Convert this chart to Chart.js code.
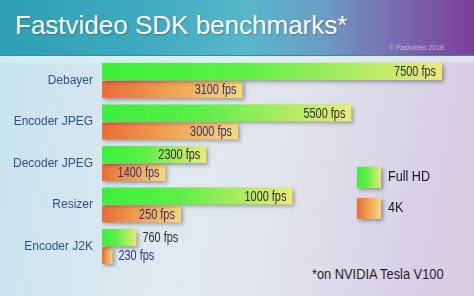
<!DOCTYPE html>
<html>
<head>
<meta charset="utf-8">
<script src="https://cdn.jsdelivr.net/npm/chart.js@4.4.0/dist/chart.umd.min.js"></script>
<style>
html, body { margin: 0; padding: 0; }
body {
    width: 474px; height: 296px; overflow: hidden; position: relative;
    font-family: "Liberation Sans", Arial, sans-serif;
    background: linear-gradient(100deg, #c6e3ee 0%, #e0e9ef 40%, #e1e4ec 60%, #d9d2e6 85%, #dacae0 100%);
}
#header {
    position: absolute; left: 0; top: 0; width: 474px; height: 55px;
    background: linear-gradient(90deg, #2e9fb4 0%, #3faabf 30%, #58b7cb 52%, #6b9cc4 68%, #7a6aae 84%, #7c3e98 100%);
    border-bottom: 1px solid #2f8ea3;
}
#band {
    position: absolute; left: 0; top: 56px; width: 474px; height: 7px;
    background: linear-gradient(90deg, #cfeef3 0%, #dff0f4 50%, #e2e0ee 100%);
}
#title {
    position: absolute; left: 15px; top: 12px;
    font-size: 26px; line-height: 26px; color: #fff; white-space: nowrap;
    text-shadow: 1px 1px 2px rgba(0, 0, 0, 0.25);
}
#copy {
    position: absolute; left: 389px; top: 44px;
    font-size: 7px; line-height: 7px; color: rgba(255, 255, 255, 0.55); white-space: nowrap;
}
#note {
    position: absolute; left: 312px; top: 267px;
    font-size: 14px; line-height: 14px; color: #1e1e28; white-space: nowrap;
    transform: scaleX(0.915); transform-origin: 0 0;
}
#wrap { position: absolute; left: 0; top: 0; width: 474px; height: 296px; }
</style>
</head>
<body>
<div id="header">
    <div id="title">Fastvideo SDK benchmarks*</div>
    <div id="copy">© Fastvideo 2018</div>
</div>
<div id="band"></div>
<div id="note">*on NVIDIA Tesla V100</div>
<div id="wrap"><canvas id="benchChart"></canvas></div>

<script>
// data
const categories = ['Debayer', 'Encoder JPEG', 'Decoder JPEG', 'Resizer', 'Encoder J2K'];
const seriesNames = ['Full HD', '4K'];

// fps figures printed on the bars
const fullHdFps = [7500, 5500, 2300, 1000, 760];
const fourKFps = [3100, 3000, 1400, 250, 230];

// bar lengths as drawn (fps units) - the Resizer bars are drawn longer than their figures
const fullHdLength = [7500, 5500, 2300, 4200, 760];
const fourKLength = [3100, 3000, 1400, 1740, 230];

Chart.defaults.font.family = '"Liberation Sans", Arial, sans-serif';

// gradient running along each bar, from its base to its end
function barGradient(stops) {
    return (context) => {
        const chart = context.chart;
        if (!chart.chartArea || context.type !== 'data') return stops[0][1];
        const x = chart.scales.x;
        const x0 = x.getPixelForValue(0);
        const x1 = x.getPixelForValue(context.raw);
        const g = chart.ctx.createLinearGradient(x0, 0, Math.max(x1, x0 + 1), 0);
        stops.forEach(s => g.addColorStop(s[0], s[1]));
        return g;
    };
}

const greenStops = [[0, '#3cf03c'], [0.4, '#5cef45'], [1, '#ebea78']];
const orangeStops = [[0, '#e96c35'], [0.5, '#f0a356'], [1, '#f5d97c']];

// narrow text: the original uses a condensed face
function narrowText(c, text, x, y, align, squeeze) {
    const w = c.measureText(text).width * squeeze;
    const left = align === 'right' ? x - w : x;
    c.save();
    c.translate(left, y);
    c.scale(squeeze, 1);
    c.textAlign = 'left';
    c.fillText(text, 0, 0);
    c.restore();
}

// soft drop shadow under the bars
const barShadow = {
    id: 'barShadow',
    beforeDatasetsDraw(chart) {
        const c = chart.ctx;
        c.save();
        c.shadowColor = 'rgba(0, 0, 0, 0.35)';
        c.shadowBlur = 4;
        c.shadowOffsetX = 2;
        c.shadowOffsetY = 2;
    },
    afterDatasetsDraw(chart) {
        chart.ctx.restore();
    }
};

// "xxxx fps" text at the end of each bar
const fpsLabels = {
    id: 'fpsLabels',
    afterDatasetsDraw(chart) {
        const c = chart.ctx;
        const squeeze = 0.78;
        c.save();
        c.font = '14px "Liberation Sans", Arial, sans-serif';
        c.textBaseline = 'middle';
        chart.data.datasets.forEach((ds, i) => {
            chart.getDatasetMeta(i).data.forEach((bar, j) => {
                const text = ds.fps[j] + ' fps';
                const w = c.measureText(text).width * squeeze;
                c.fillStyle = ds.labelColor;
                if (bar.x - bar.base > w + 12) {
                    narrowText(c, text, bar.x - 6, bar.y + 1, 'right', squeeze);
                } else {
                    narrowText(c, text, bar.x + 6, bar.y + 1, 'left', squeeze);
                }
            });
        });
        c.restore();
    }
};

// legend boxes on the right
const boxLegend = {
    id: 'boxLegend',
    afterDraw(chart) {
        const c = chart.ctx;
        c.save();
        chart.data.datasets.forEach((ds, i) => {
            const x = 357, y = 167 + i * 31, w = 24, h = 21;
            const g = c.createLinearGradient(x, 0, x + w, 0);
            ds.stops.forEach(s => g.addColorStop(s[0], s[1]));
            c.shadowColor = 'rgba(0, 0, 0, 0.35)';
            c.shadowBlur = 4;
            c.shadowOffsetX = 2;
            c.shadowOffsetY = 2;
            c.fillStyle = g;
            c.fillRect(x, y, w, h);
            c.shadowColor = 'transparent';
            c.fillStyle = '#15151c';
            c.font = '14px "Liberation Sans", Arial, sans-serif';
            c.textBaseline = 'middle';
            narrowText(c, ds.label, x + 31, y + h / 2, 'left', 0.9);
        });
        c.restore();
    }
};

const ctx = document.getElementById('benchChart').getContext('2d');

const benchChart = new Chart(ctx, {
    type: 'bar',
    data: {
        labels: categories,
        datasets: [
            {
                label: seriesNames[0],
                data: fullHdLength,
                fps: fullHdFps,
                stops: greenStops,
                labelColor: '#2e2e30',
                backgroundColor: barGradient(greenStops),
                borderWidth: 0
            },
            {
                label: seriesNames[1],
                data: fourKLength,
                fps: fourKFps,
                stops: orangeStops,
                labelColor: '#33307a',
                backgroundColor: barGradient(orangeStops),
                borderWidth: 0
            }
        ]
    },
    options: {
        indexAxis: 'y',
        responsive: true,
        maintainAspectRatio: false,
        animation: false,
        categoryPercentage: 0.867,
        barPercentage: 0.944,
        layout: {
            padding: { top: 59.75, bottom: 28.75, left: 0, right: 9.33 }
        },
        scales: {
            x: { display: false, min: 0, max: 8000 },
            y: {
                grid: { display: false, drawTicks: false },
                border: { display: false },
                ticks: { color: '#2f4e8e', font: { size: 12 }, padding: 9 },
                afterFit: (axis) => { axis.width = 102; }
            }
        },
        plugins: {
            legend: { display: false },
            tooltip: { enabled: false }
        }
    },
    plugins: [barShadow, fpsLabels, boxLegend]
});
</script>
</body>
</html>
